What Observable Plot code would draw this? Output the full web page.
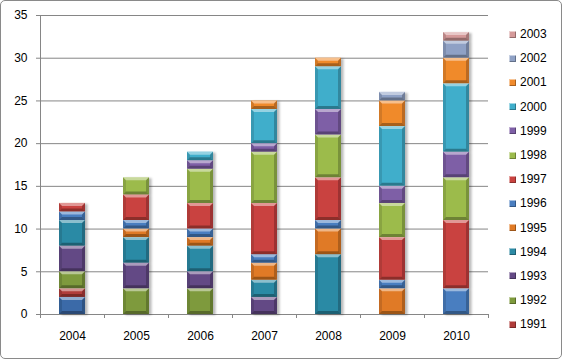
<!DOCTYPE html>
<html>
<head>
<meta charset="utf-8">
<script src="https://cdn.jsdelivr.net/npm/d3@7"></script>
<script src="https://cdn.jsdelivr.net/npm/@observablehq/plot@0.6"></script>
<style>
  html, body { margin: 0; padding: 0; background: #fff; }
  #wrap { position: relative; width: 562px; height: 359px; overflow: hidden; font-family: "Liberation Sans", Arial, sans-serif; }
  #frame { position: absolute; left: 0; top: 0; width: 560px; height: 357px; border: 1px solid #8a8a8a; border-radius: 5px; pointer-events: none; }
  #legend { position: absolute; left: 509px; top: 22px; }
  .item { height: 24.19px; display: flex; align-items: center; font-size: 12px; color: #000; }
  .sw { width: 7px; height: 7px; margin-right: 4px; box-sizing: border-box; }
</style>
</head>
<body>
<div id="wrap">
  <div id="chart"></div>
  <div id="legend"></div>
  <div id="frame"></div>
</div>
<script>
// categories (bars) and series (stack segments, bottom to top)
const years = ["2004", "2005", "2006", "2007", "2008", "2009", "2010"];
const series = ["1990", "1991", "1992", "1993", "1994", "1995", "1996", "1997", "1998", "1999", "2000", "2001", "2002", "2003"];
// values per series, one per bar year
const s1990 = [2, 0, 0, 0, 0, 0, 0];
const s1991 = [1, 0, 0, 0, 0, 0, 0];
const s1992 = [2, 3, 3, 0, 0, 0, 0];
const s1993 = [3, 3, 2, 2, 0, 0, 0];
const s1994 = [3, 3, 3, 2, 7, 0, 0];
const s1995 = [0, 1, 1, 2, 3, 3, 0];
const s1996 = [1, 1, 1, 1, 1, 1, 3];
const s1997 = [1, 3, 3, 6, 5, 5, 8];
const s1998 = [0, 2, 4, 6, 5, 4, 5];
const s1999 = [0, 0, 1, 1, 3, 2, 3];
const s2000 = [0, 0, 1, 4, 5, 7, 8];
const s2001 = [0, 0, 0, 1, 1, 3, 3];
const s2002 = [0, 0, 0, 0, 0, 1, 2];
const s2003 = [0, 0, 0, 0, 0, 0, 1];
const seriesValues = [s1990, s1991, s1992, s1993, s1994, s1995, s1996, s1997, s1998, s1999, s2000, s2001, s2002, s2003];
const colors = ["#3b6aa8", "#b03c3a", "#7e9a3c", "#644985", "#2c8aa5", "#e07a25", "#4a7ec0", "#c9423f", "#9cbb4c", "#7e5fa6", "#3faecb", "#f08a2c", "#8fa1c5", "#d59a9a"];
const legendSeries = ["2003", "2002", "2001", "2000", "1999", "1998", "1997", "1996", "1995", "1994", "1993", "1992", "1991"];
const yTicks = [0, 5, 10, 15, 20, 25, 30, 35];

const colorOf = Object.fromEntries(series.map((s, i) => [s, colors[i]]));
const rows = [];
years.forEach((yr, j) => {
  series.forEach((s, i) => {
    const v = seriesValues[i][j];
    if (v > 0) rows.push({year: yr, series: s, value: v});
  });
});

const W = 562, H = 359, mL = 40, mR = 74, mT = 15, mB = 45;
const step = (W - mL - mR) / years.length;
const grey = "#868686";

const chart = Plot.plot({
  width: W, height: H,
  marginLeft: mL, marginRight: mR, marginTop: mT, marginBottom: mB,
  x: {domain: years, paddingInner: 0.59, paddingOuter: 0.295},
  y: {domain: [0, 35]},
  color: {type: "identity"},
  style: {fontFamily: "Liberation Sans, Arial, sans-serif", fontSize: "12px", color: "#000", background: "transparent"},
  marks: [
    Plot.ruleY(yTicks.slice(1), {stroke: grey}),
    Plot.ruleY([0], {stroke: grey}),
    Plot.ruleX([years[0]], {x: d => d, dx: -step / 2, y1: 0, y2: 35, stroke: grey}),
    Plot.ruleX(years, {x: d => d, dx: -step / 2, y1: 0, y2: 0, insetBottom: -4, stroke: grey}),
    Plot.ruleX([years[years.length - 1]], {x: d => d, dx: step / 2, y1: 0, y2: 0, insetBottom: -4, stroke: grey}),
    Plot.axisY(yTicks, {tickSize: 4, tickPadding: 9, stroke: grey, fill: "#000", label: null}),
    Plot.axisX({tickSize: 0, tickPadding: 17, fill: "#000", label: null}),
    Plot.barY(rows, {x: "year", y: "value", z: "series", fill: d => colorOf[d.series]})
  ]
});
document.getElementById("chart").appendChild(chart);

// bevel + shadow decoration derived from the rendered bar rects
const svg = d3.select(chart);
const defs = svg.insert("defs", ":first-child");
const f = defs.append("filter").attr("id", "shadow").attr("x", "-20%").attr("y", "-5%").attr("width", "150%").attr("height", "115%");
f.append("feDropShadow").attr("dx", 2.5).attr("dy", 1).attr("stdDeviation", 1.2).attr("flood-color", "#000").attr("flood-opacity", 0.28);
const barGroup = svg.selectAll("g[aria-label='bar']");
barGroup.attr("filter", "url(#shadow)");
barGroup.selectAll("rect").each(function () {
  const r = d3.select(this);
  const x = +r.attr("x"), y = +r.attr("y"), w = +r.attr("width"), h = +r.attr("height");
  if (!(w > 0 && h > 0)) return;
  const b = Math.min(3, h / 2, w / 2);
  const g = d3.select(this.parentNode);
  const poly = (pts, fill, op) => g.append("polygon").attr("points", pts.map(p => p.join(",")).join(" ")).attr("fill", fill).attr("fill-opacity", op);
  poly([[x, y], [x + w, y], [x + w - b, y + b], [x + b, y + b]], "#fff", 0.45);
  poly([[x, y + h], [x + w, y + h], [x + w - b, y + h - b], [x + b, y + h - b]], "#000", 0.3);
  poly([[x, y], [x + b, y + b], [x + b, y + h - b], [x, y + h]], "#000", 0.12);
  poly([[x + w, y], [x + w - b, y + b], [x + w - b, y + h - b], [x + w, y + h]], "#000", 0.22);
});

// legend
const legend = d3.select("#legend");
legendSeries.forEach(s => {
  const it = legend.append("div").attr("class", "item");
  it.append("div").attr("class", "sw")
    .style("background", colorOf[s])
    .style("box-shadow", "inset 1px 1px 0 rgba(255,255,255,0.5), inset -1px -1px 0 rgba(0,0,0,0.3)");
  it.append("span").text(s);
});
</script>
</body>
</html>
